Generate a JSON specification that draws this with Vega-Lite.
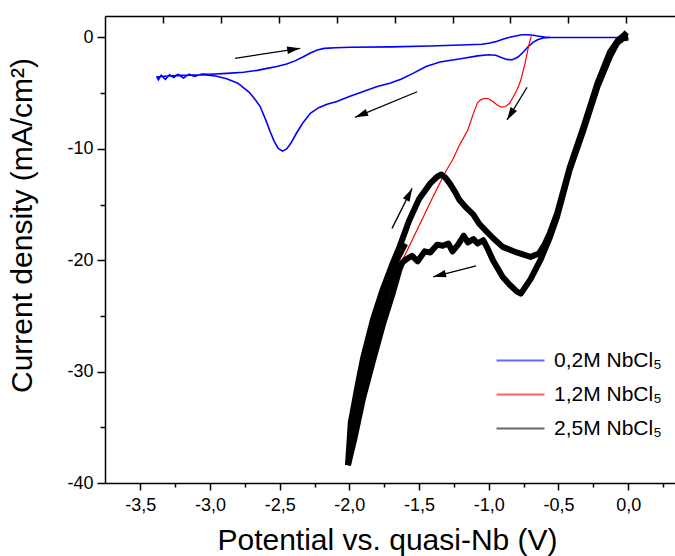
{
  "$schema": "https://vega.github.io/schema/vega-lite/v6.json",
  "width": 570,
  "height": 467,
  "autosize": {"type": "none"},
  "padding": {"left": 105, "top": 16, "right": 0, "bottom": 73},
  "config": {
    "view": {"stroke": null},
    "locale": {"number": {"decimal": ",", "thousands": ".", "grouping": [3], "currency": ["", ""], "minus": "-"}},
    "font": "Liberation Sans",
    "axis": {
      "domainColor": "black", "domainWidth": 1.5, "tickColor": "black", "tickWidth": 1.5,
      "labelColor": "black", "titleColor": "black", "labelFont": "Liberation Sans", "titleFont": "Liberation Sans",
      "titleFontWeight": "normal", "labelFontSize": 18, "titleFontSize": 30, "grid": false
    }
  },
  "resolve": {"axis": {"x": "independent", "y": "independent"}},
  "datasets": {
    "curves": [
      {"s": "0,2M NbCl₅", "g": "b", "i": 1, "x": 0.0, "y": 0.0},
      {"s": "0,2M NbCl₅", "g": "b", "i": 2, "x": -0.30, "y": 0.0},
      {"s": "0,2M NbCl₅", "g": "b", "i": 3, "x": -0.56, "y": 0.0},
      {"s": "0,2M NbCl₅", "g": "b", "i": 4, "x": -0.61, "y": -0.05},
      {"s": "0,2M NbCl₅", "g": "b", "i": 5, "x": -0.65, "y": -0.2},
      {"s": "0,2M NbCl₅", "g": "b", "i": 6, "x": -0.68, "y": -0.42},
      {"s": "0,2M NbCl₅", "g": "b", "i": 7, "x": -0.72, "y": -0.85},
      {"s": "0,2M NbCl₅", "g": "b", "i": 8, "x": -0.75, "y": -1.28},
      {"s": "0,2M NbCl₅", "g": "b", "i": 9, "x": -0.79, "y": -1.75},
      {"s": "0,2M NbCl₅", "g": "b", "i": 10, "x": -0.83, "y": -2.0},
      {"s": "0,2M NbCl₅", "g": "b", "i": 11, "x": -0.87, "y": -1.98},
      {"s": "0,2M NbCl₅", "g": "b", "i": 12, "x": -0.90, "y": -1.85},
      {"s": "0,2M NbCl₅", "g": "b", "i": 13, "x": -0.95, "y": -1.6},
      {"s": "0,2M NbCl₅", "g": "b", "i": 14, "x": -1.00, "y": -1.55},
      {"s": "0,2M NbCl₅", "g": "b", "i": 15, "x": -1.08, "y": -1.65},
      {"s": "0,2M NbCl₅", "g": "b", "i": 16, "x": -1.18, "y": -1.87},
      {"s": "0,2M NbCl₅", "g": "b", "i": 17, "x": -1.35, "y": -2.2},
      {"s": "0,2M NbCl₅", "g": "b", "i": 18, "x": -1.45, "y": -2.6},
      {"s": "0,2M NbCl₅", "g": "b", "i": 19, "x": -1.54, "y": -3.2},
      {"s": "0,2M NbCl₅", "g": "b", "i": 20, "x": -1.63, "y": -3.75},
      {"s": "0,2M NbCl₅", "g": "b", "i": 21, "x": -1.71, "y": -4.1},
      {"s": "0,2M NbCl₅", "g": "b", "i": 22, "x": -1.80, "y": -4.4},
      {"s": "0,2M NbCl₅", "g": "b", "i": 23, "x": -1.90, "y": -4.85},
      {"s": "0,2M NbCl₅", "g": "b", "i": 24, "x": -2.00, "y": -5.3},
      {"s": "0,2M NbCl₅", "g": "b", "i": 25, "x": -2.09, "y": -5.75},
      {"s": "0,2M NbCl₅", "g": "b", "i": 26, "x": -2.16, "y": -6.0},
      {"s": "0,2M NbCl₅", "g": "b", "i": 27, "x": -2.22, "y": -6.3},
      {"s": "0,2M NbCl₅", "g": "b", "i": 28, "x": -2.28, "y": -6.8},
      {"s": "0,2M NbCl₅", "g": "b", "i": 29, "x": -2.33, "y": -7.6},
      {"s": "0,2M NbCl₅", "g": "b", "i": 30, "x": -2.38, "y": -8.6},
      {"s": "0,2M NbCl₅", "g": "b", "i": 31, "x": -2.42, "y": -9.5},
      {"s": "0,2M NbCl₅", "g": "b", "i": 32, "x": -2.45, "y": -10.0},
      {"s": "0,2M NbCl₅", "g": "b", "i": 33, "x": -2.48, "y": -10.2},
      {"s": "0,2M NbCl₅", "g": "b", "i": 34, "x": -2.51, "y": -9.95},
      {"s": "0,2M NbCl₅", "g": "b", "i": 35, "x": -2.54, "y": -9.3},
      {"s": "0,2M NbCl₅", "g": "b", "i": 36, "x": -2.57, "y": -8.4},
      {"s": "0,2M NbCl₅", "g": "b", "i": 37, "x": -2.60, "y": -7.4},
      {"s": "0,2M NbCl₅", "g": "b", "i": 38, "x": -2.64, "y": -6.2},
      {"s": "0,2M NbCl₅", "g": "b", "i": 39, "x": -2.68, "y": -5.5},
      {"s": "0,2M NbCl₅", "g": "b", "i": 40, "x": -2.72, "y": -4.9},
      {"s": "0,2M NbCl₅", "g": "b", "i": 41, "x": -2.80, "y": -4.1},
      {"s": "0,2M NbCl₅", "g": "b", "i": 42, "x": -2.88, "y": -3.7},
      {"s": "0,2M NbCl₅", "g": "b", "i": 43, "x": -2.96, "y": -3.45},
      {"s": "0,2M NbCl₅", "g": "b", "i": 44, "x": -3.05, "y": -3.35},
      {"s": "0,2M NbCl₅", "g": "b", "i": 45, "x": -3.15, "y": -3.38},
      {"s": "0,2M NbCl₅", "g": "b", "i": 46, "x": -3.25, "y": -3.42},
      {"s": "0,2M NbCl₅", "g": "b", "i": 47, "x": -3.33, "y": -3.48},
      {"s": "0,2M NbCl₅", "g": "b", "i": 48, "x": -3.38, "y": -3.55},
      {"s": "0,2M NbCl₅", "g": "b", "i": 49, "x": -3.37, "y": -3.8},
      {"s": "0,2M NbCl₅", "g": "b", "i": 50, "x": -3.35, "y": -3.4},
      {"s": "0,2M NbCl₅", "g": "b", "i": 51, "x": -3.32, "y": -3.75},
      {"s": "0,2M NbCl₅", "g": "b", "i": 52, "x": -3.29, "y": -3.35},
      {"s": "0,2M NbCl₅", "g": "b", "i": 53, "x": -3.26, "y": -3.6},
      {"s": "0,2M NbCl₅", "g": "b", "i": 54, "x": -3.23, "y": -3.3},
      {"s": "0,2M NbCl₅", "g": "b", "i": 55, "x": -3.19, "y": -3.65},
      {"s": "0,2M NbCl₅", "g": "b", "i": 56, "x": -3.15, "y": -3.3},
      {"s": "0,2M NbCl₅", "g": "b", "i": 57, "x": -3.11, "y": -3.5},
      {"s": "0,2M NbCl₅", "g": "b", "i": 58, "x": -3.06, "y": -3.28},
      {"s": "0,2M NbCl₅", "g": "b", "i": 59, "x": -3.00, "y": -3.3},
      {"s": "0,2M NbCl₅", "g": "b", "i": 60, "x": -2.88, "y": -3.22},
      {"s": "0,2M NbCl₅", "g": "b", "i": 61, "x": -2.76, "y": -3.12},
      {"s": "0,2M NbCl₅", "g": "b", "i": 62, "x": -2.66, "y": -2.95},
      {"s": "0,2M NbCl₅", "g": "b", "i": 63, "x": -2.59, "y": -2.77},
      {"s": "0,2M NbCl₅", "g": "b", "i": 64, "x": -2.52, "y": -2.6},
      {"s": "0,2M NbCl₅", "g": "b", "i": 65, "x": -2.45, "y": -2.38},
      {"s": "0,2M NbCl₅", "g": "b", "i": 66, "x": -2.39, "y": -2.1},
      {"s": "0,2M NbCl₅", "g": "b", "i": 67, "x": -2.33, "y": -1.73},
      {"s": "0,2M NbCl₅", "g": "b", "i": 68, "x": -2.28, "y": -1.4},
      {"s": "0,2M NbCl₅", "g": "b", "i": 69, "x": -2.23, "y": -1.12},
      {"s": "0,2M NbCl₅", "g": "b", "i": 70, "x": -2.18, "y": -0.98},
      {"s": "0,2M NbCl₅", "g": "b", "i": 71, "x": -2.10, "y": -0.92},
      {"s": "0,2M NbCl₅", "g": "b", "i": 72, "x": -1.99, "y": -0.88},
      {"s": "0,2M NbCl₅", "g": "b", "i": 73, "x": -1.70, "y": -0.84},
      {"s": "0,2M NbCl₅", "g": "b", "i": 74, "x": -1.42, "y": -0.76},
      {"s": "0,2M NbCl₅", "g": "b", "i": 75, "x": -1.20, "y": -0.68},
      {"s": "0,2M NbCl₅", "g": "b", "i": 76, "x": -1.05, "y": -0.6},
      {"s": "0,2M NbCl₅", "g": "b", "i": 77, "x": -0.99, "y": -0.5},
      {"s": "0,2M NbCl₅", "g": "b", "i": 78, "x": -0.94, "y": -0.33},
      {"s": "0,2M NbCl₅", "g": "b", "i": 79, "x": -0.90, "y": -0.16},
      {"s": "0,2M NbCl₅", "g": "b", "i": 80, "x": -0.85, "y": 0.03},
      {"s": "0,2M NbCl₅", "g": "b", "i": 81, "x": -0.80, "y": 0.16},
      {"s": "0,2M NbCl₅", "g": "b", "i": 82, "x": -0.76, "y": 0.24},
      {"s": "0,2M NbCl₅", "g": "b", "i": 83, "x": -0.72, "y": 0.25},
      {"s": "0,2M NbCl₅", "g": "b", "i": 84, "x": -0.68, "y": 0.2},
      {"s": "0,2M NbCl₅", "g": "b", "i": 85, "x": -0.65, "y": 0.13},
      {"s": "0,2M NbCl₅", "g": "b", "i": 86, "x": -0.60, "y": 0.05},
      {"s": "0,2M NbCl₅", "g": "b", "i": 87, "x": -0.56, "y": 0.02},
      {"s": "0,2M NbCl₅", "g": "b", "i": 88, "x": -0.30, "y": 0.0},
      {"s": "0,2M NbCl₅", "g": "b", "i": 89, "x": 0.0, "y": 0.0},

      {"s": "1,2M NbCl₅", "g": "r", "i": 1, "x": -0.695, "y": 0.1},
      {"s": "1,2M NbCl₅", "g": "r", "i": 2, "x": -0.705, "y": -0.3},
      {"s": "1,2M NbCl₅", "g": "r", "i": 3, "x": -0.72, "y": -1.12},
      {"s": "1,2M NbCl₅", "g": "r", "i": 4, "x": -0.74, "y": -2.32},
      {"s": "1,2M NbCl₅", "g": "r", "i": 5, "x": -0.77, "y": -3.82},
      {"s": "1,2M NbCl₅", "g": "r", "i": 6, "x": -0.79, "y": -4.5},
      {"s": "1,2M NbCl₅", "g": "r", "i": 7, "x": -0.81, "y": -5.01},
      {"s": "1,2M NbCl₅", "g": "r", "i": 8, "x": -0.85, "y": -5.91},
      {"s": "1,2M NbCl₅", "g": "r", "i": 9, "x": -0.88, "y": -6.2},
      {"s": "1,2M NbCl₅", "g": "r", "i": 10, "x": -0.91, "y": -6.25},
      {"s": "1,2M NbCl₅", "g": "r", "i": 11, "x": -0.94, "y": -6.06},
      {"s": "1,2M NbCl₅", "g": "r", "i": 12, "x": -0.97, "y": -5.75},
      {"s": "1,2M NbCl₅", "g": "r", "i": 13, "x": -1.00, "y": -5.5},
      {"s": "1,2M NbCl₅", "g": "r", "i": 14, "x": -1.03, "y": -5.46},
      {"s": "1,2M NbCl₅", "g": "r", "i": 15, "x": -1.06, "y": -5.6},
      {"s": "1,2M NbCl₅", "g": "r", "i": 16, "x": -1.08, "y": -5.85},
      {"s": "1,2M NbCl₅", "g": "r", "i": 17, "x": -1.11, "y": -6.81},
      {"s": "1,2M NbCl₅", "g": "r", "i": 18, "x": -1.15, "y": -8.31},
      {"s": "1,2M NbCl₅", "g": "r", "i": 19, "x": -1.21, "y": -9.66},
      {"s": "1,2M NbCl₅", "g": "r", "i": 20, "x": -1.26, "y": -11.0},
      {"s": "1,2M NbCl₅", "g": "r", "i": 21, "x": -1.31, "y": -12.06},
      {"s": "1,2M NbCl₅", "g": "r", "i": 22, "x": -1.40, "y": -14.3},
      {"s": "1,2M NbCl₅", "g": "r", "i": 23, "x": -1.50, "y": -16.9},
      {"s": "1,2M NbCl₅", "g": "r", "i": 24, "x": -1.60, "y": -19.5},
      {"s": "1,2M NbCl₅", "g": "r", "i": 25, "x": -1.66, "y": -20.8},
      {"s": "1,2M NbCl₅", "g": "r", "i": 26, "x": -1.71, "y": -21.8},
      {"s": "1,2M NbCl₅", "g": "r", "i": 27, "x": -1.78, "y": -23.6},
      {"s": "1,2M NbCl₅", "g": "r", "i": 28, "x": -1.85, "y": -25.6},

      {"s": "2,5M NbCl₅", "g": "k1", "i": 1, "x": 0.0, "y": 0.0},
      {"s": "2,5M NbCl₅", "g": "k1", "i": 2, "x": -0.04, "y": -0.1},
      {"s": "2,5M NbCl₅", "g": "k1", "i": 3, "x": -0.08, "y": -0.5},
      {"s": "2,5M NbCl₅", "g": "k1", "i": 4, "x": -0.13, "y": -1.7},
      {"s": "2,5M NbCl₅", "g": "k1", "i": 5, "x": -0.22, "y": -4.4},
      {"s": "2,5M NbCl₅", "g": "k1", "i": 6, "x": -0.32, "y": -8.3},
      {"s": "2,5M NbCl₅", "g": "k1", "i": 7, "x": -0.42, "y": -11.9},
      {"s": "2,5M NbCl₅", "g": "k1", "i": 8, "x": -0.51, "y": -16.1},
      {"s": "2,5M NbCl₅", "g": "k1", "i": 9, "x": -0.56, "y": -17.9},
      {"s": "2,5M NbCl₅", "g": "k1", "i": 10, "x": -0.63, "y": -20.0},
      {"s": "2,5M NbCl₅", "g": "k1", "i": 11, "x": -0.70, "y": -21.7},
      {"s": "2,5M NbCl₅", "g": "k1", "i": 12, "x": -0.77, "y": -23.0},
      {"s": "2,5M NbCl₅", "g": "k1", "i": 13, "x": -0.80, "y": -22.8},
      {"s": "2,5M NbCl₅", "g": "k1", "i": 14, "x": -0.85, "y": -22.2},
      {"s": "2,5M NbCl₅", "g": "k1", "i": 15, "x": -0.90, "y": -21.5},
      {"s": "2,5M NbCl₅", "g": "k1", "i": 16, "x": -0.97, "y": -20.0},
      {"s": "2,5M NbCl₅", "g": "k1", "i": 17, "x": -1.01, "y": -18.9},
      {"s": "2,5M NbCl₅", "g": "k1", "i": 18, "x": -1.04, "y": -18.2},
      {"s": "2,5M NbCl₅", "g": "k1", "i": 19, "x": -1.08, "y": -18.5},
      {"s": "2,5M NbCl₅", "g": "k1", "i": 20, "x": -1.11, "y": -18.1},
      {"s": "2,5M NbCl₅", "g": "k1", "i": 21, "x": -1.15, "y": -18.4},
      {"s": "2,5M NbCl₅", "g": "k1", "i": 22, "x": -1.18, "y": -17.8},
      {"s": "2,5M NbCl₅", "g": "k1", "i": 23, "x": -1.22, "y": -18.6},
      {"s": "2,5M NbCl₅", "g": "k1", "i": 24, "x": -1.26, "y": -19.2},
      {"s": "2,5M NbCl₅", "g": "k1", "i": 25, "x": -1.29, "y": -18.5},
      {"s": "2,5M NbCl₅", "g": "k1", "i": 26, "x": -1.33, "y": -18.7},
      {"s": "2,5M NbCl₅", "g": "k1", "i": 27, "x": -1.37, "y": -18.6},
      {"s": "2,5M NbCl₅", "g": "k1", "i": 28, "x": -1.42, "y": -19.3},
      {"s": "2,5M NbCl₅", "g": "k1", "i": 29, "x": -1.46, "y": -19.2},
      {"s": "2,5M NbCl₅", "g": "k1", "i": 30, "x": -1.51, "y": -20.1},
      {"s": "2,5M NbCl₅", "g": "k1", "i": 31, "x": -1.55, "y": -19.6},
      {"s": "2,5M NbCl₅", "g": "k1", "i": 32, "x": -1.59, "y": -19.9},
      {"s": "2,5M NbCl₅", "g": "k1", "i": 33, "x": -1.62, "y": -20.2},
      {"s": "2,5M NbCl₅", "g": "k1", "i": 34, "x": -1.64, "y": -20.8},
      {"s": "2,5M NbCl₅", "g": "k1", "i": 35, "x": -1.69, "y": -23.0},
      {"s": "2,5M NbCl₅", "g": "k1", "i": 36, "x": -1.76, "y": -25.8},
      {"s": "2,5M NbCl₅", "g": "k1", "i": 37, "x": -1.83, "y": -29.0},
      {"s": "2,5M NbCl₅", "g": "k1", "i": 38, "x": -1.90, "y": -32.3},
      {"s": "2,5M NbCl₅", "g": "k1", "i": 39, "x": -1.96, "y": -35.8},
      {"s": "2,5M NbCl₅", "g": "k1", "i": 40, "x": -2.01, "y": -38.4},

      {"s": "2,5M NbCl₅", "g": "k2", "i": 1, "x": -2.01, "y": -38.4},
      {"s": "2,5M NbCl₅", "g": "k2", "i": 2, "x": -1.99, "y": -34.6},
      {"s": "2,5M NbCl₅", "g": "k2", "i": 3, "x": -1.94, "y": -31.2},
      {"s": "2,5M NbCl₅", "g": "k2", "i": 4, "x": -1.90, "y": -28.7},
      {"s": "2,5M NbCl₅", "g": "k2", "i": 5, "x": -1.83, "y": -25.3},
      {"s": "2,5M NbCl₅", "g": "k2", "i": 6, "x": -1.76, "y": -22.6},
      {"s": "2,5M NbCl₅", "g": "k2", "i": 7, "x": -1.69, "y": -20.3},
      {"s": "2,5M NbCl₅", "g": "k2", "i": 8, "x": -1.64, "y": -18.8},
      {"s": "2,5M NbCl₅", "g": "k2", "i": 9, "x": -1.57, "y": -16.4},
      {"s": "2,5M NbCl₅", "g": "k2", "i": 10, "x": -1.50, "y": -14.5},
      {"s": "2,5M NbCl₅", "g": "k2", "i": 11, "x": -1.42, "y": -13.1},
      {"s": "2,5M NbCl₅", "g": "k2", "i": 12, "x": -1.37, "y": -12.5},
      {"s": "2,5M NbCl₅", "g": "k2", "i": 13, "x": -1.34, "y": -12.3},
      {"s": "2,5M NbCl₅", "g": "k2", "i": 14, "x": -1.31, "y": -12.6},
      {"s": "2,5M NbCl₅", "g": "k2", "i": 15, "x": -1.28, "y": -13.1},
      {"s": "2,5M NbCl₅", "g": "k2", "i": 16, "x": -1.24, "y": -13.9},
      {"s": "2,5M NbCl₅", "g": "k2", "i": 17, "x": -1.21, "y": -14.6},
      {"s": "2,5M NbCl₅", "g": "k2", "i": 18, "x": -1.16, "y": -15.3},
      {"s": "2,5M NbCl₅", "g": "k2", "i": 19, "x": -1.11, "y": -15.9},
      {"s": "2,5M NbCl₅", "g": "k2", "i": 20, "x": -1.07, "y": -16.7},
      {"s": "2,5M NbCl₅", "g": "k2", "i": 21, "x": -1.04, "y": -17.1},
      {"s": "2,5M NbCl₅", "g": "k2", "i": 22, "x": -0.97, "y": -18.0},
      {"s": "2,5M NbCl₅", "g": "k2", "i": 23, "x": -0.90, "y": -18.8},
      {"s": "2,5M NbCl₅", "g": "k2", "i": 24, "x": -0.80, "y": -19.3},
      {"s": "2,5M NbCl₅", "g": "k2", "i": 25, "x": -0.70, "y": -19.7},
      {"s": "2,5M NbCl₅", "g": "k2", "i": 26, "x": -0.64, "y": -19.4},
      {"s": "2,5M NbCl₅", "g": "k2", "i": 27, "x": -0.60, "y": -18.6},
      {"s": "2,5M NbCl₅", "g": "k2", "i": 28, "x": -0.56, "y": -17.5},
      {"s": "2,5M NbCl₅", "g": "k2", "i": 29, "x": -0.51, "y": -15.8},
      {"s": "2,5M NbCl₅", "g": "k2", "i": 30, "x": -0.42, "y": -11.7},
      {"s": "2,5M NbCl₅", "g": "k2", "i": 31, "x": -0.32, "y": -8.0},
      {"s": "2,5M NbCl₅", "g": "k2", "i": 32, "x": -0.22, "y": -4.1},
      {"s": "2,5M NbCl₅", "g": "k2", "i": 33, "x": -0.13, "y": -1.3},
      {"s": "2,5M NbCl₅", "g": "k2", "i": 34, "x": -0.07, "y": -0.2},
      {"s": "2,5M NbCl₅", "g": "k2", "i": 35, "x": -0.03, "y": 0.2},
      {"s": "2,5M NbCl₅", "g": "k2", "i": 36, "x": -0.01, "y": 0.45},

      {"s": "2,5M NbCl₅", "g": "k3", "i": 1, "x": -2.00, "y": -37.5},
      {"s": "2,5M NbCl₅", "g": "k3", "i": 2, "x": -1.96, "y": -34.0},
      {"s": "2,5M NbCl₅", "g": "k3", "i": 3, "x": -1.90, "y": -31.0},
      {"s": "2,5M NbCl₅", "g": "k3", "i": 4, "x": -1.85, "y": -28.0},
      {"s": "2,5M NbCl₅", "g": "k3", "i": 5, "x": -1.78, "y": -25.0},
      {"s": "2,5M NbCl₅", "g": "k3", "i": 6, "x": -1.71, "y": -22.0},
      {"s": "2,5M NbCl₅", "g": "k3", "i": 7, "x": -1.66, "y": -20.0},
      {"s": "2,5M NbCl₅", "g": "k3", "i": 8, "x": -1.60, "y": -18.5},

      {"s": "2,5M NbCl₅", "g": "k4", "i": 1, "x": -1.98, "y": -36.0},
      {"s": "2,5M NbCl₅", "g": "k4", "i": 2, "x": -1.93, "y": -32.5},
      {"s": "2,5M NbCl₅", "g": "k4", "i": 3, "x": -1.875, "y": -29.4},
      {"s": "2,5M NbCl₅", "g": "k4", "i": 4, "x": -1.81, "y": -26.2},
      {"s": "2,5M NbCl₅", "g": "k4", "i": 5, "x": -1.745, "y": -23.3},
      {"s": "2,5M NbCl₅", "g": "k4", "i": 6, "x": -1.68, "y": -21.0}
    ],
    "arrows": [
      {"x": -2.82, "y": -1.87, "x2": -2.353, "y2": -0.97, "a": -8.7},
      {"x": -1.514, "y": -4.87, "x2": -1.959, "y2": -7.17, "a": 157.6},
      {"x": -0.725, "y": -4.47, "x2": -0.869, "y2": -7.41, "a": 121.5},
      {"x": -1.694, "y": -17.14, "x2": -1.550, "y2": -13.55, "a": -63.4},
      {"x": -1.091, "y": -20.50, "x2": -1.399, "y2": -21.49, "a": 165.7}
    ]
  },
  "layer": [
    {
      "data": {"name": "curves"},
      "transform": [{"filter": "datum.g === 'b'"}],
      "mark": {"type": "line", "strokeWidth": 1.6, "clip": true},
      "encoding": {
        "x": {"field": "x", "type": "quantitative", "scale": {"domain": [-3.753, 0.336], "nice": false, "zero": false},
          "axis": {"orient": "bottom", "title": "Potential vs. quasi-Nb (V)", "values": [-3.5, -3.25, -3.0, -2.75, -2.5, -2.25, -2.0, -1.75, -1.5, -1.25, -1.0, -0.75, -0.5, -0.25, 0.0, 0.25],
            "format": ".1f", "labelExpr": "(datum.value*2) % 1 == 0 ? datum.label : ''",
            "tickSize": {"condition": {"test": "(datum.value*2) % 1 == 0", "value": 7}, "value": 4},
            "labelPadding": 6, "labelFlush": false, "titleBaseline": "alphabetic", "titleY": 66, "titleX": 282}},
        "y": {"field": "y", "type": "quantitative", "scale": {"domain": [-40, 1.93], "nice": false, "zero": false},
          "axis": {"orient": "left", "title": "Current density (mA/cm²)", "values": [-40, -35, -30, -25, -20, -15, -10, -5, 0],
            "format": "d", "labelExpr": "datum.value % 10 == 0 ? datum.label : ''",
            "tickSize": {"condition": {"test": "datum.value % 10 == 0", "value": 8}, "value": 5},
            "labelPadding": 4, "titleBaseline": "alphabetic", "titleX": -74, "titleY": 209}},
        "color": {"field": "s", "type": "nominal",
          "scale": {"domain": ["0,2M NbCl₅", "1,2M NbCl₅", "2,5M NbCl₅"], "range": ["#0000ff", "#ff0000", "#000000"]},
          "legend": {"orient": "none", "legendX": 405, "legendY": 334, "title": null, "padding": 0,
            "symbolType": "M-3,0L3,0", "symbolSize": 256, "symbolStrokeWidth": 1.8, "symbolOpacity": 0.6, "labelOffset": 23,
            "labelFontSize": 21, "labelFont": "Liberation Sans", "labelColor": "black", "rowPadding": 12}},
        "detail": {"field": "g"},
        "order": {"field": "i", "type": "quantitative"}
      }
    },
    {
      "data": {"name": "curves"},
      "transform": [{"filter": "datum.g === 'r'"}],
      "mark": {"type": "line", "strokeWidth": 1.2, "clip": true},
      "encoding": {
        "x": {"field": "x", "type": "quantitative", "axis": null},
        "y": {"field": "y", "type": "quantitative", "axis": null},
        "color": {"field": "s", "type": "nominal"},
        "detail": {"field": "g"},
        "order": {"field": "i", "type": "quantitative"}
      }
    },
    {
      "data": {"name": "curves"},
      "transform": [{"filter": "datum.g === 'k1' || datum.g === 'k2' || datum.g === 'k3' || datum.g === 'k4'"}],
      "mark": {"type": "line", "strokeWidth": 6, "strokeJoin": "round", "clip": true},
      "encoding": {
        "x": {"field": "x", "type": "quantitative", "axis": null},
        "y": {"field": "y", "type": "quantitative", "axis": null},
        "color": {"field": "s", "type": "nominal"},
        "detail": {"field": "g"},
        "order": {"field": "i", "type": "quantitative"}
      }
    },
    {
      "data": {"name": "arrows"},
      "mark": {"type": "rule", "color": "black", "strokeWidth": 1.3},
      "encoding": {
        "x": {"field": "x", "type": "quantitative", "axis": null},
        "y": {"field": "y", "type": "quantitative", "axis": null},
        "x2": {"field": "x2"},
        "y2": {"field": "y2"}
      }
    },
    {
      "data": {"name": "arrows"},
      "mark": {"type": "point", "shape": "M0,0L-2.6,-0.75L-2.6,0.75Z", "filled": true, "color": "black", "opacity": 1, "size": 100},
      "encoding": {
        "x": {"field": "x2", "type": "quantitative",
          "axis": {"orient": "top", "values": [-3.337, -2.922, -2.506, -2.091, -1.675, -1.26, -0.845, -0.429, -0.014],
            "labels": false, "title": null, "tickSize": -7}},
        "y": {"field": "y2", "type": "quantitative", "axis": null},
        "angle": {"field": "a", "type": "quantitative", "scale": null}
      }
    }
  ]
}
